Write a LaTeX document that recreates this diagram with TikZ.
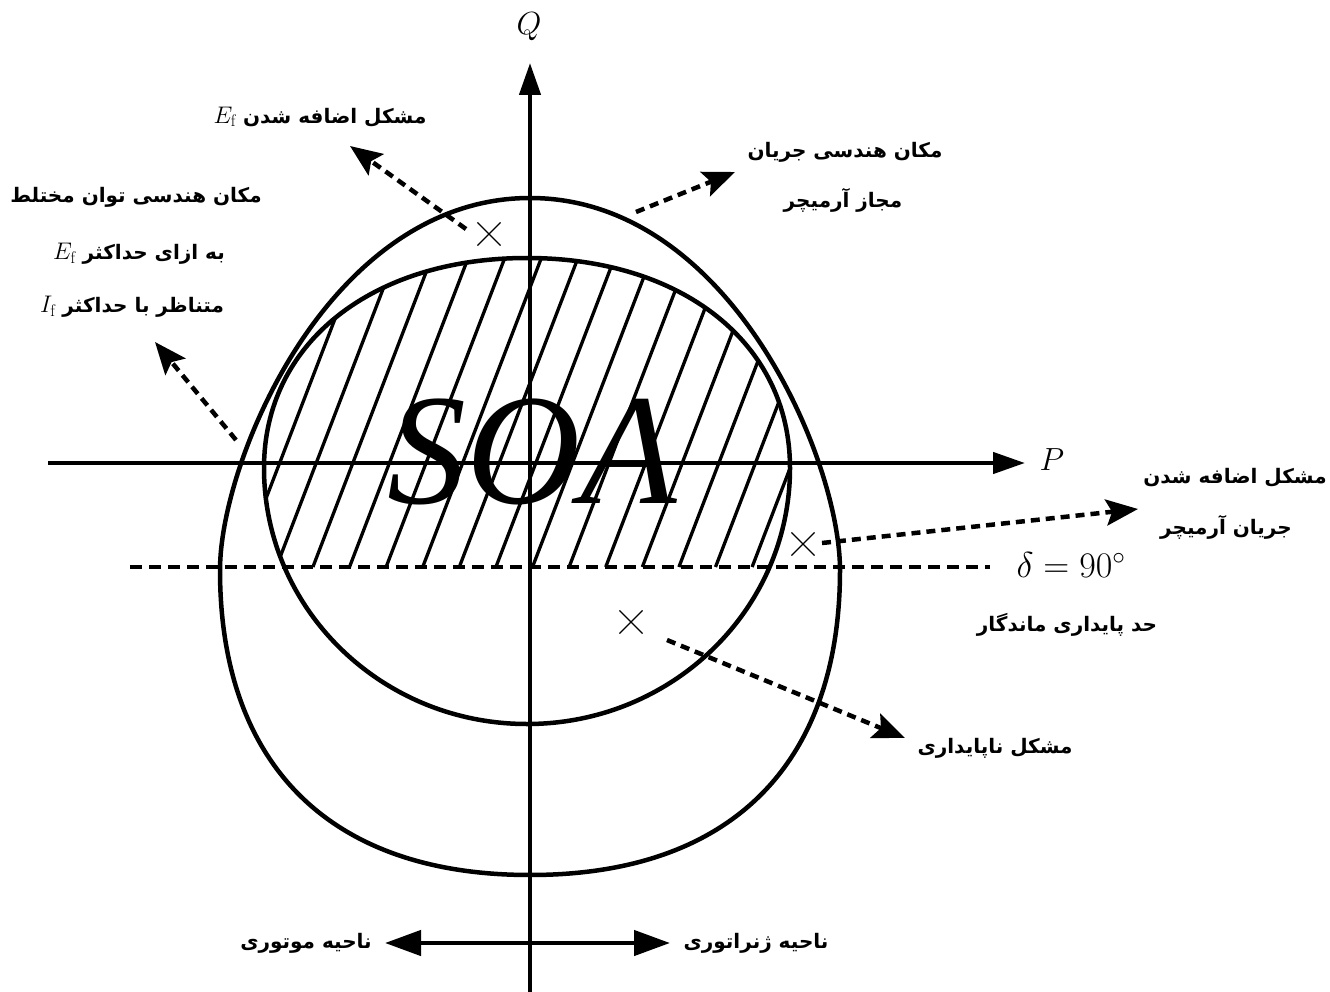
\RequirePackage{fix-cm}
\documentclass[tikz,border=0pt]{standalone}
\usepackage{fontspec}
\newfontfamily\pfont[Script=Arabic]{DejaVu Sans}
\newfontfamily\soafont{Liberation Serif}
\TeXXeTstate=1
\usetikzlibrary{arrows.meta,shapes.misc}
\tikzset{
  axis/.style={line width=4.5pt,-{Triangle[length=32pt,width=21pt]}},
  outline/.style={line width=4.5pt},
  hatchline/.style={line width=3.3pt},
  dline/.style={line width=4.5pt,dash pattern=on 12pt off 7pt},
  darrow/.style={line width=4.5pt,dash pattern=on 9pt off 6pt,-{Stealth[length=32pt,width=26pt,inset=6pt]}},
  barrow/.style={line width=4.5pt,{Triangle[length=36pt,width=25pt]}-{Triangle[length=36pt,width=25pt]}},
  xmark/.style={draw,cross out,minimum size=22pt,inner sep=0pt,line width=1.1pt},
  plabel/.style={inner sep=0pt,font=\pfont\bfseries\fontsize{20}{24}\selectfont},
  mlabel/.style={inner sep=0pt,font=\fontsize{32}{34}\selectfont}
}
\newcommand\mysub[1]{\beginL{\fontsize{24}{26}\selectfont$#1_{\mathrm{f}}$}\endL}
\def\smallshape{(790,468) arc[start angle=0,end angle=180,x radius=263,y radius=256]
  .. controls (264,343) and (372,258) .. (527,258)
  .. controls (682,258) and (790,343) .. (790,468) -- cycle}
\def\bigshape{(840,570) .. controls (840,760) and (735,875) .. (530,875)
  .. controls (325,875) and (220,760) .. (220,570)
  .. controls (220,460) and (330,198) .. (530,198)
  .. controls (730,198) and (840,460) .. (840,570) -- cycle}
\begin{document}
\begin{tikzpicture}[x=1pt,y=-1pt]
\useasboundingbox (0,0) rectangle (1330,992);
% hatch
\begin{scope}
  \clip \smallshape;
  \clip (0,0) rectangle (1330,567);
  \foreach \k in {-13,...,8}
    \draw[hatchline] ({532.5+36.6*\k},567) -- ++({0.384*340},-340);
\end{scope}
% shapes
\draw[outline] \smallshape;
\draw[outline] \bigshape;
% axes
\coordinate (qb) at (530,992);
\coordinate (qt) at (530,63);
\coordinate (pl) at (48,463);
\coordinate (pr) at (1025,463);
\draw[axis] (qb) -- (qt);
\draw[axis] (pl) -- (pr);
\node[mlabel] (Q) at (529,27) {$Q$};
\node[mlabel] (P) at (1052,460) {$P$};
% SOA
\node[inner sep=0pt,font=\soafont\itshape\fontsize{158}{160}\selectfont] (soa) at (532,452) {SOA};
% dashed limit line
\coordinate (dl) at (130,567);
\coordinate (dr) at (990,567);
\draw[dline] (dl) -- (dr);
\node[inner sep=0pt,font=\fontsize{36}{38}\selectfont] (delta) at (1071,565) {$\delta=90^\circ$};
% markers
\node[xmark] (x1) at (489,234) {};
\node[xmark] (x2) at (803,544) {};
\node[xmark] (x3) at (631,622) {};
% dashed arrows
\coordinate (a1) at (466,229); \coordinate (a2) at (350,146);
\coordinate (b1) at (636,212); \coordinate (b2) at (735,172);
\coordinate (c1) at (236,440); \coordinate (c2) at (155,342);
\coordinate (d1) at (822,543); \coordinate (d2) at (1138,509);
\coordinate (e1) at (667,640); \coordinate (e2) at (905,738);
\draw[darrow] (a1) -- (a2);
\draw[darrow] (b1) -- (b2);
\draw[darrow] (c1) -- (c2);
\draw[darrow] (d1) -- (d2);
\draw[darrow] (e1) -- (e2);
% bottom arrow
\coordinate (bl) at (385,943);
\coordinate (br) at (670,943);
\draw[barrow] (bl) -- (br);
% labels
\node[plabel] (l1) at (320,117) {\beginR مشکل اضافه شدن \mysub{E}\endR};
\node[plabel] (l2a) at (845,152) {\beginR مکان هندسی جریان\endR};
\node[plabel] (l2b) at (843,200) {\beginR مجاز آرمیچر\endR};
\node[plabel] (l3a) at (136,197) {\beginR مکان هندسی توان مختلط\endR};
\node[plabel] (l3b) at (139,254) {\beginR به ازای حداکثر \mysub{E}\endR};
\node[plabel] (l3c) at (132,307) {\beginR متناظر با حداکثر \mysub{I}\endR};
\node[plabel] (l4a) at (1235,478) {\beginR مشکل اضافه شدن\endR};
\node[plabel] (l4b) at (1226,527) {\beginR جریان آرمیچر\endR};
\node[plabel] (l5) at (1067,625) {\beginR حد پایداری ماندگار\endR};
\node[plabel] (l6) at (995,748) {\beginR مشکل ناپایداری\endR};
\node[plabel] (l7) at (306,943) {\beginR ناحیه موتوری\endR};
\node[plabel] (l8) at (756,943) {\beginR ناحیه ژنراتوری\endR};
\end{tikzpicture}
\end{document}
